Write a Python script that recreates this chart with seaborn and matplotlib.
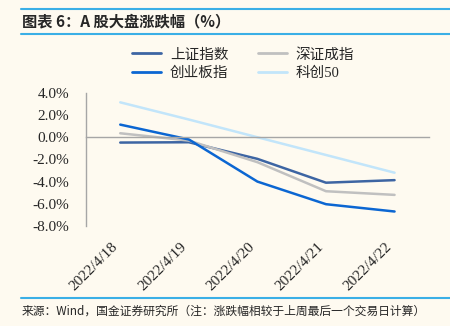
import matplotlib
matplotlib.use("Agg")
import matplotlib.pyplot as plt
import seaborn as sns
import pandas as pd
from matplotlib.lines import Line2D
from matplotlib.ticker import FuncFormatter

dates = ["2022/4/18", "2022/4/19", "2022/4/20", "2022/4/21", "2022/4/22"]
sh_index = [-0.48, -0.45, -1.95, -4.10, -3.87]
sz_index = [0.36, -0.30, -2.25, -4.87, -5.20]
cyb_index = [1.14, -0.20, -4.00, -6.04, -6.70]
kc50_index = [3.15, 1.60, 0.00, -1.60, -3.20]

series_names = ["上证指数", "深证成指", "创业板指", "科创50"]
series_vals = [sh_index, sz_index, cyb_index, kc50_index]
colors = ["#3D65A3", "#C0C0C0", "#0B66D2", "#C2E5FA"]

rows = []
for name, vals in zip(series_names, series_vals):
    for d, v in zip(dates, vals):
        rows.append({"date": d, "value": v, "series": name})
df = pd.DataFrame(rows)

sns.set_style("white")
plt.rcParams["font.family"] = ["Liberation Serif", "Noto Sans CJK SC", "DejaVu Sans"]

bg = "#FEFAF0"
fig = plt.figure(figsize=(4.5, 3.26), dpi=100, facecolor=bg)
ax = fig.add_axes([0.191, 0.307, 0.762, 0.408])
ax.set_facecolor(bg)

sns.lineplot(data=df, x="date", y="value", hue="series", hue_order=series_names,
             palette=colors, linewidth=1.8, ax=ax, legend=False, sort=False)

ax.set_xlim(-0.5, 4.5)
ax.set_ylim(-8, 4)
ax.set_yticks([4, 2, 0, -2, -4, -6, -8])
ax.yaxis.set_major_formatter(FuncFormatter(lambda v, p: f"{v:.1f}%"))
ax.set_xlabel("")
ax.set_ylabel("")

spine_c = "#A6A6A6"
for s in ["top", "right"]:
    ax.spines[s].set_visible(False)
ax.spines["left"].set_color(spine_c)
ax.spines["bottom"].set_color(spine_c)
ax.spines["bottom"].set_position(("data", 0))
ax.spines["left"].set_linewidth(1.0)
ax.spines["bottom"].set_linewidth(1.0)

ax.tick_params(axis="y", direction="in", length=4, color=spine_c, labelsize=11, pad=12)
ax.set_xticks(range(len(dates)))
ax.set_xticklabels(dates, rotation=45, ha="right", fontsize=11)
ax.set_xticks([-0.5, 0.5, 1.5, 2.5, 3.5, 4.5], minor=True)
ax.tick_params(axis="x", which="major", length=0, pad=74)
ax.tick_params(axis="x", which="minor", direction="in", length=4, color=spine_c)
ax.grid(False)

order = [0, 2, 1, 3]
handles = [Line2D([0], [0], color=colors[i], lw=2) for i in order]
labels = [series_names[i] for i in order]
fig.legend(handles, labels, loc="center", bbox_to_anchor=(0.54, 0.805), ncol=2,
           frameon=False, handlelength=2.0, columnspacing=2.0,
           labelspacing=0.35, handletextpad=0.6,
           prop={"family": ["Liberation Serif", "Noto Sans CJK SC"], "size": 10.5})

line_c = "#3AAFE6"
fig.add_artist(Line2D([0.047, 1.0], [0.971, 0.971], transform=fig.transFigure, color=line_c, lw=1.5))
fig.add_artist(Line2D([0.047, 1.0], [0.896, 0.896], transform=fig.transFigure, color=line_c, lw=1.5))
fig.add_artist(Line2D([0.047, 1.0], [0.086, 0.086], transform=fig.transFigure, color=line_c, lw=1.5))

fig.text(0.05, 0.933, "图表 6：A 股大盘涨跌幅（%）", ha="left", va="center", fontsize=11,
         fontweight="bold", style="italic", family=["Noto Sans CJK SC", "DejaVu Sans"])
fig.text(0.047, 0.045, "来源：Wind，国金证券研究所（注：涨跌幅相较于上周最后一个交易日计算）",
         ha="left", va="center", fontsize=8.5, family=["Noto Sans CJK SC", "DejaVu Sans"])

fig.savefig("out.png", dpi=100, facecolor=bg)
